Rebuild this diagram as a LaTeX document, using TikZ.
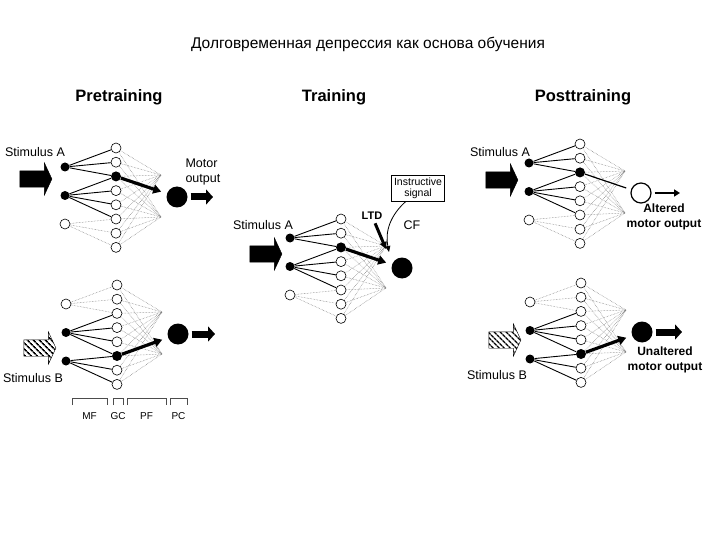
\documentclass[tikz,border=0pt]{standalone}
\usepackage{fontspec}
\setmainfont{Liberation Sans}
\usetikzlibrary{arrows.meta, shapes.arrows, patterns.meta, positioning}

\tikzset{
    gc/.style={circle, draw, fill=white, line width=0.6pt, minimum size=10pt, inner sep=0pt},
    gcon/.style={circle, fill=black, minimum size=10pt, inner sep=0pt},
    mf/.style={circle, fill=black, minimum size=9pt, inner sep=0pt},
    mfoff/.style={gc},
    pc/.style={circle, fill=black, minimum size=21pt, inner sep=0pt},
    pcoff/.style={circle, draw, fill=white, line width=1.2pt, minimum size=20pt, inner sep=0pt},
    fiber/.style={line width=0.9pt},
    pf/.style={black!55, densely dotted, line width=0.5pt},
    strong/.style={line width=3.2pt, -{Triangle[length=8pt, width=9pt]}, shorten >=6pt},
    stimarrow/.style={single arrow, draw, fill=black, minimum height=32pt, inner xsep=0pt, inner ysep=8pt,
        single arrow head extend=8pt, single arrow tip angle=130},
    stimhatch/.style={stimarrow, fill=white,
        postaction={pattern={Lines[angle=-45, distance=4pt, line width=1.6pt]}}},
    outarrow/.style={line width=7pt, shorten <=3pt, -{Triangle[length=7pt, width=15pt]}},
    thinout/.style={line width=1.8pt, shorten <=3pt, -{Triangle[length=6pt, width=7pt]}},
    txt/.style={font=\fontsize{12.5}{15}\selectfont},
    boldtxt/.style={font=\bfseries\fontsize{12}{15}\selectfont, align=center},
    head/.style={font=\bfseries\fontsize{16.5}{18}\selectfont},
    lab/.style={font=\fontsize{10}{12}\selectfont},
}

\begin{document}
\begin{tikzpicture}[x=1pt, y=-1pt]
    \useasboundingbox (0,0) rectangle (720,540);

    \node[font=\fontsize{15.5}{17}\selectfont] (title) at (368,44) {Долговременная депрессия как основа обучения};
    \node[head] (prehead) at (119,97) {Pretraining};
    \node[head] (trhead) at (334,97) {Training};
    \node[head] (posthead) at (583,97) {Posttraining};

    % pretraining, stimulus A
    \begin{scope}[shift={(65,167)}, name prefix=preA-]
        \node[mf] (m1) at (0,0) {};
        \node[mf] (m2) at (0,28.5) {};
        \node[mfoff] (m3) at (0,57) {};
        \foreach \k/\s in {1/gc,2/gc,3/gcon,4/gc,5/gc,6/gc,7/gc,8/gc}
            \node[\s] (g\k) at (51,{-33.2+14.2*\k}) {};
        \node[pc] (pc) at (112,30) {};
        \coordinate (d1) at (96,8);
        \coordinate (d2) at (96,50);
        \foreach \k in {1,...,8}
            \draw[pf] (g\k) -- (d1) (g\k) -- (d2);
        \foreach \k in {1,2,3} \draw[fiber] (m1) -- (g\k);
        \foreach \k in {3,...,6} \draw[fiber] (m2) -- (g\k);
        \foreach \k in {6,7,8} \draw[pf] (m3) -- (g\k);
        \draw[strong] (g3) -- (pc);
        \coordinate (out) at (148,30);
        \draw[outarrow] (pc) -- (out);
    \end{scope}
    \node[stimarrow] (stimA1) at (34,179) {};
    \node[txt] (stimA1lab) at (35,152) {Stimulus A};
    \node[txt, align=left, anchor=west] (motor) at (182,172) {Motor\\output};

    % pretraining, stimulus B
    \begin{scope}[shift={(66,304)}, name prefix=preB-]
        \node[mfoff] (m1) at (0,0) {};
        \node[mf] (m2) at (0,28.5) {};
        \node[mf] (m3) at (0,57) {};
        \foreach \k/\s in {1/gc,2/gc,3/gc,4/gc,5/gc,6/gcon,7/gc,8/gc}
            \node[\s] (g\k) at (51,{-33.2+14.2*\k}) {};
        \node[pc] (pc) at (112,30) {};
        \coordinate (d1) at (96,8);
        \coordinate (d2) at (96,50);
        \foreach \k in {1,...,8}
            \draw[pf] (g\k) -- (d1) (g\k) -- (d2);
        \foreach \k in {1,2,3} \draw[pf] (m1) -- (g\k);
        \foreach \k in {3,...,6} \draw[fiber] (m2) -- (g\k);
        \foreach \k in {6,7,8} \draw[fiber] (m3) -- (g\k);
        \draw[strong] (g6) -- (pc);
        \coordinate (out) at (149,30);
        \draw[outarrow] (pc) -- (out);
    \end{scope}
    \node[stimhatch] (stimB1) at (38,348) {};
    \node[txt] (stimB1lab) at (33,378) {Stimulus B};

    % cell labels
    \foreach \a/\b/\t in {72/107/MF, 113/123/GC, 127/166/PF, 170/187/PC} {
        \draw[black!70, line width=0.5pt] (\a,405) -- (\a,398) -- (\b,398) -- (\b,405);
        \node[lab] (lab\t) at ({(\a+\b)/2},416) {\t};
    }

    % training
    \begin{scope}[shift={(290,238)}, name prefix=tr-]
        \node[mf] (m1) at (0,0) {};
        \node[mf] (m2) at (0,28.5) {};
        \node[mfoff] (m3) at (0,57) {};
        \foreach \k/\s in {1/gc,2/gc,3/gcon,4/gc,5/gc,6/gc,7/gc,8/gc}
            \node[\s] (g\k) at (51,{-33.2+14.2*\k}) {};
        \node[pc] (pc) at (112,30) {};
        \coordinate (d1) at (96,8);
        \coordinate (d2) at (96,50);
        \foreach \k in {1,...,8}
            \draw[pf] (g\k) -- (d1) (g\k) -- (d2);
        \foreach \k in {1,2,3} \draw[fiber] (m1) -- (g\k);
        \foreach \k in {3,...,6} \draw[fiber] (m2) -- (g\k);
        \foreach \k in {6,7,8} \draw[pf] (m3) -- (g\k);
        \draw[strong] (g3) -- (pc);
    \end{scope}
    \node[stimarrow] (stimA2) at (264,254) {};
    \node[txt] (stimA2lab) at (263,225) {Stimulus A};
    \node[font=\bfseries\fontsize{11}{12}\selectfont] (ltd) at (372,216) {LTD};
    \coordinate (ltdtip) at (386,249);
    \draw[line width=3pt, -{Triangle[length=7pt, width=7pt]}] (ltd) -- (ltdtip);
    \node[draw, line width=0.6pt, align=center, font=\fontsize{10.5}{11}\selectfont,
        minimum width=53pt, minimum height=26pt, inner sep=1pt] (instr) at (418,188) {Instructive\\signal};
    \node[txt] (cf) at (412,225) {CF};
    \coordinate (cftip) at (389,252);
    \draw[line width=0.8pt, -{Triangle[length=6pt, width=5pt]}] ([xshift=-12pt]instr.south) to[bend right=30] (cftip);

    % posttraining, stimulus A
    \begin{scope}[shift={(529,163)}, name prefix=postA-]
        \node[mf] (m1) at (0,0) {};
        \node[mf] (m2) at (0,28.5) {};
        \node[mfoff] (m3) at (0,57) {};
        \foreach \k/\s in {1/gc,2/gc,3/gcon,4/gc,5/gc,6/gc,7/gc,8/gc}
            \node[\s] (g\k) at (51,{-33.2+14.2*\k}) {};
        \node[pcoff] (pc) at (112,30) {};
        \coordinate (d1) at (96,8);
        \coordinate (d2) at (96,50);
        \foreach \k in {1,...,8}
            \draw[pf] (g\k) -- (d1) (g\k) -- (d2);
        \foreach \k in {1,2,3} \draw[fiber] (m1) -- (g\k);
        \foreach \k in {3,...,6} \draw[fiber] (m2) -- (g\k);
        \foreach \k in {6,7,8} \draw[pf] (m3) -- (g\k);
        \draw[fiber, line width=1.2pt, shorten >=5pt] (g3) -- (pc);
        \coordinate (out) at (151,30);
        \draw[thinout] (pc) -- (out);
    \end{scope}
    \node[stimarrow] (stimA3) at (500,180) {};
    \node[txt] (stimA3lab) at (500,152) {Stimulus A};
    \node[boldtxt] (altered) at (664,217) {Altered\\motor output};

    % posttraining, stimulus B
    \begin{scope}[shift={(530,302)}, name prefix=postB-]
        \node[mfoff] (m1) at (0,0) {};
        \node[mf] (m2) at (0,28.5) {};
        \node[mf] (m3) at (0,57) {};
        \foreach \k/\s in {1/gc,2/gc,3/gc,4/gc,5/gc,6/gcon,7/gc,8/gc}
            \node[\s] (g\k) at (51,{-33.2+14.2*\k}) {};
        \node[pc] (pc) at (112,30) {};
        \coordinate (d1) at (96,8);
        \coordinate (d2) at (96,50);
        \foreach \k in {1,...,8}
            \draw[pf] (g\k) -- (d1) (g\k) -- (d2);
        \foreach \k in {1,2,3} \draw[pf] (m1) -- (g\k);
        \foreach \k in {3,...,6} \draw[fiber] (m2) -- (g\k);
        \foreach \k in {6,7,8} \draw[fiber] (m3) -- (g\k);
        \draw[strong] (g6) -- (pc);
        \coordinate (out) at (152,30);
        \draw[outarrow] (pc) -- (out);
    \end{scope}
    \node[stimhatch] (stimB2) at (503,340) {};
    \node[txt] (stimB2lab) at (497,375) {Stimulus B};
    \node[boldtxt] (unaltered) at (665,360) {Unaltered\\motor output};
\end{tikzpicture}
\end{document}
